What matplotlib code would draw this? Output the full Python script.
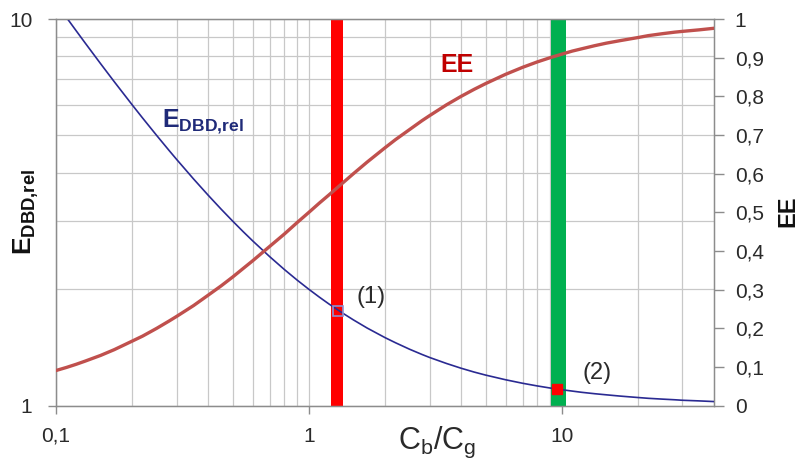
import numpy as np
import matplotlib
matplotlib.use("Agg")
import matplotlib.pyplot as plt
from matplotlib.ticker import FuncFormatter, FixedLocator

plt.rcParams["font.family"] = ["Liberation Sans", "DejaVu Sans"]
plt.rcParams["mathtext.fontset"] = "custom"
plt.rcParams["mathtext.rm"] = "Liberation Sans"
plt.rcParams["mathtext.bf"] = "Liberation Sans:bold"
plt.rcParams["mathtext.it"] = "Liberation Sans:italic"
plt.rcParams["mathtext.default"] = "regular"

# ---- data ----
cb_cg = [0.1, 0.11, 0.12, 0.13, 0.15, 0.17, 0.2, 0.22, 0.25, 0.28,
         0.3, 0.35, 0.4, 0.45, 0.5, 0.55, 0.6, 0.7, 0.8, 0.9,
         1.0, 1.1, 1.2, 1.35, 1.5, 1.7, 2.0, 2.2, 2.5, 2.8,
         3.0, 3.5, 4.0, 4.5, 5.0, 6.0, 7.0, 8.0, 9.0, 10.0,
         11.0, 12.0, 13.5, 15.0, 17.0, 20.0, 22.0, 25.0, 28.0, 30.0,
         35.0, 40.0]
e_dbd_rel = [11.0, 10.09, 9.333, 8.692, 7.667, 6.882, 6.0, 5.545, 5.0, 4.571,
             4.333, 3.857, 3.5, 3.222, 3.0, 2.818, 2.667, 2.429, 2.25, 2.111,
             2.0, 1.909, 1.833, 1.741, 1.667, 1.588, 1.5, 1.455, 1.4, 1.357,
             1.333, 1.286, 1.25, 1.222, 1.2, 1.167, 1.143, 1.125, 1.111, 1.1,
             1.091, 1.083, 1.074, 1.067, 1.059, 1.05, 1.045, 1.04, 1.036, 1.033,
             1.029, 1.025]
ee = [0.091, 0.099, 0.107, 0.115, 0.130, 0.145, 0.167, 0.180, 0.2, 0.219,
      0.231, 0.259, 0.286, 0.310, 0.333, 0.355, 0.375, 0.412, 0.444, 0.474,
      0.5, 0.524, 0.545, 0.574, 0.6, 0.630, 0.667, 0.688, 0.714, 0.737,
      0.75, 0.778, 0.8, 0.818, 0.833, 0.857, 0.875, 0.889, 0.9, 0.909,
      0.917, 0.923, 0.931, 0.9375, 0.944, 0.952, 0.957, 0.962, 0.966, 0.968,
      0.972, 0.976]

band_red = (1.22, 1.37)
band_green = (9.1, 10.4)
point1 = (1.30, 1.76)
point2 = (9.55, 1.104)

txt_c = "#2a2a2a"

# ---- figure ----
fig = plt.figure(figsize=(7.98, 4.68), dpi=100)
ax = fig.add_axes([0.0702, 0.1331, 0.8245, 0.8263])
ax.set_xscale("log"); ax.set_yscale("log")
ax.set_xlim(0.1, 40); ax.set_ylim(1, 10)

grid_c = "#c8c8c8"
ax.grid(True, which="both", color=grid_c, lw=0.9)
ax.set_axisbelow(True)
for s in ax.spines.values():
    s.set_color("#8c8c8c"); s.set_linewidth(1.0)

ax.axvspan(*band_red, color="#ff0000", lw=0, zorder=2)
ax.axvspan(*band_green, color="#00b050", lw=0, zorder=2)

ax.plot(cb_cg, e_dbd_rel, color="#2a2a92", lw=1.2, zorder=4, solid_joinstyle="round")
ax.plot(*point1, marker="s", ms=7, mfc="none", mec="#9090d0", mew=1.2, zorder=5)
ax.plot(*point2, marker="s", ms=6.5, mfc="#ff0000", mec="#ff0000", zorder=5)

ax.xaxis.set_major_locator(FixedLocator([0.1, 1, 10]))
ax.xaxis.set_minor_locator(FixedLocator([0.2, 0.3, 0.4, 0.5, 0.6, 0.7, 0.8, 0.9,
                                         2, 3, 4, 5, 6, 7, 8, 9, 20, 30]))
ax.xaxis.set_major_formatter(FuncFormatter(lambda v, p: f"{v:g}".replace(".", ",")))
ax.xaxis.set_minor_formatter(FuncFormatter(lambda v, p: ""))
ax.yaxis.set_major_locator(FixedLocator([1, 10]))
ax.yaxis.set_minor_locator(FixedLocator([2, 3, 4, 5, 6, 7, 8, 9]))
ax.yaxis.set_major_formatter(FuncFormatter(lambda v, p: f"{v:g}"))
ax.yaxis.set_minor_formatter(FuncFormatter(lambda v, p: ""))
ax.tick_params(axis="both", which="major", labelsize=15, length=6, color="#8c8c8c",
               width=1, labelcolor=txt_c)
ax.tick_params(axis="both", which="minor", length=0)
ax.tick_params(axis="y", which="major", pad=11)
ax.tick_params(axis="x", which="major", pad=9)

ax2 = ax.twinx()
ax2.set_ylim(0, 1)
ax2.set_yticks(np.arange(0, 1.01, 0.1))
ax2.yaxis.set_major_formatter(FuncFormatter(lambda v, p: f"{v:.1f}".replace(".", ",") if 0 < v < 1 else f"{v:.0f}"))
ax2.tick_params(axis="y", labelsize=15, length=7, color="#8c8c8c", width=1, pad=8,
                labelcolor=txt_c)
for s in ax2.spines.values():
    s.set_color("#8c8c8c")
ax2.plot(cb_cg, ee, color="#c0504d", lw=2.4, zorder=4, solid_joinstyle="round")

# axis titles
fig.text(26 / 798, 1 - 212 / 468, r"$\mathbf{E}_{\mathbf{DBD{,}rel}}$", rotation=90,
         ha="center", va="center", fontsize=19, color="#111111")
fig.text(788 / 798, 1 - 211 / 468, "EE", rotation=90, ha="center", va="center",
         fontsize=17, fontweight="bold", color="#111111")
ax.text(0.579, -0.096, r"C$_b$/C$_g$", transform=ax.transAxes, ha="center", va="center",
        fontsize=22, color=txt_c)

# in-plot labels
ax.text(0.161, 0.72, r"$\mathbf{E}_{\mathbf{DBD{,}rel}}$", transform=ax.transAxes, fontsize=18,
        color="#1f2a78", va="baseline", zorder=6)
ax.text(0.584, 0.862, "EE", transform=ax.transAxes, fontsize=18, fontweight="bold",
        color="#c00000", va="baseline", zorder=6)
ax.text(0.479, 0.281, "(1)", transform=ax.transAxes, fontsize=17, ha="center", va="center",
        color=txt_c, zorder=6)
ax.text(0.822, 0.085, "(2)", transform=ax.transAxes, fontsize=17, ha="center", va="center",
        color=txt_c, zorder=6)

fig.savefig("out.png", dpi=100)
